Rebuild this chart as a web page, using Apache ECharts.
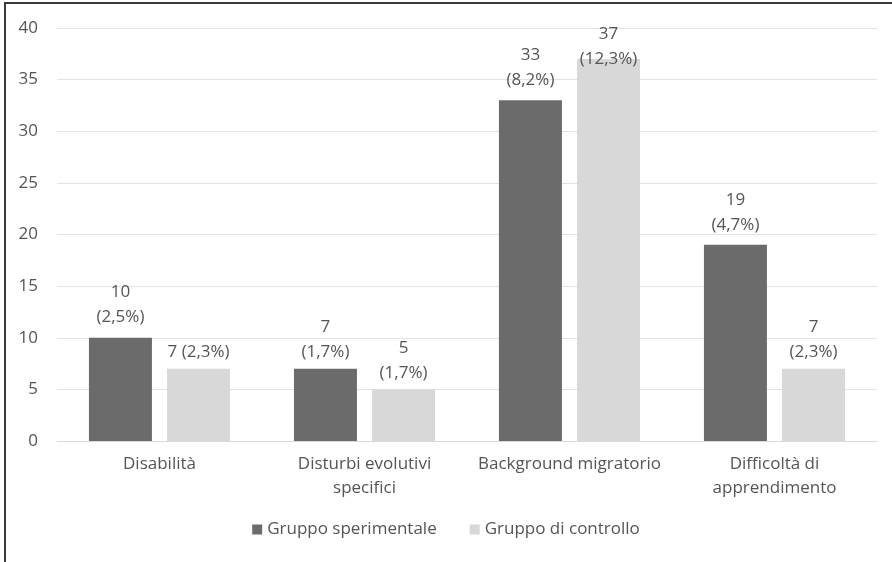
<!DOCTYPE html>
<html>
<head>
<meta charset="utf-8">
<script src="https://cdn.jsdelivr.net/npm/echarts@6/dist/echarts.min.js"></script>
<style>
html,body{margin:0;padding:0;background:#fff;}
#wrap{position:absolute;left:0;top:0;width:892px;height:562px;}
#chart{width:892px;height:562px;}
#bl{position:absolute;left:4px;top:2px;width:2px;height:560px;background:#3a3a3a;}
#bt{position:absolute;left:4px;top:2px;width:888px;height:2px;background:#3a3a3a;}
</style>
</head>
<body>
<div id="wrap"><div id="chart"></div><div id="bl"></div><div id="bt"></div></div>
<script>
const categories = ['Disabilità', 'Disturbi evolutivi\nspecifici', 'Background migratorio', 'Difficoltà di\napprendimento'];
const seriesNames = ['Gruppo sperimentale', 'Gruppo di controllo'];
const sperimentale = [10, 7, 33, 19];
const controllo = [7, 5, 37, 7];
const sperimentalePct = ['2,5%', '1,7%', '8,2%', '4,7%'];
const controlloPct = ['2,3%', '1,7%', '12,3%', '2,3%'];
const labelSplit = [[true, true, true, true], [false, true, true, true]];
const yTicks = [0, 5, 10, 15, 20, 25, 30, 35, 40];

const font = 'Open Sans';
const txt = '#555555';
const fs = 17;
// label shifts (pixels) as in the source, where some labels were moved manually
const labelShift = [[-4, 0, -4, -3], [0, 0, 17, 0]];
function mkLabel(pcts, split) {
  return {
    show: true, position: 'top', distance: 4, color: txt, fontFamily: font, fontSize: fs, lineHeight: 25,
    formatter: p => p.value + (split[p.dataIndex] ? '\n' : ' ') + '(' + pcts[p.dataIndex] + ')'
  };
}
function mkData(vals, shifts) {
  return vals.map((v, i) => ({value: v, label: {offset: [0, shifts[i]]}}));
}
const chart = echarts.init(document.getElementById('chart'));
chart.setOption({
  animation: false,
  grid: {left: 57, right: 15, top: 28, bottom: 121, containLabel: false},
  legend: {
    top: 516, left: 'center', itemWidth: 10, itemHeight: 10, itemGap: 33,
    icon: 'rect', textStyle: {color: txt, fontFamily: font, fontSize: fs},
    data: seriesNames
  },
  xAxis: {
    type: 'category', data: categories,
    axisLine: {lineStyle: {color: '#d9d9d9'}}, axisTick: {show: false},
    axisLabel: {color: txt, fontFamily: font, fontSize: fs, lineHeight: 24, margin: 11, interval: 0}
  },
  yAxis: {
    type: 'value', min: yTicks[0], max: yTicks[yTicks.length - 1], interval: 5,
    axisLine: {show: false}, axisTick: {show: false},
    splitLine: {lineStyle: {color: '#e3e3e3'}},
    axisLabel: {color: txt, fontFamily: font, fontSize: fs, margin: 19}
  },
  series: [
    {name: seriesNames[0], type: 'bar', data: mkData(sperimentale, labelShift[0]), barWidth: 63, barGap: '24%',
     itemStyle: {color: '#6b6b6b'}, label: mkLabel(sperimentalePct, labelSplit[0])},
    {name: seriesNames[1], type: 'bar', data: mkData(controllo, labelShift[1]), barWidth: 63,
     itemStyle: {color: '#d8d8d8'}, label: mkLabel(controlloPct, labelSplit[1])}
  ]
});
</script>
</body>
</html>
